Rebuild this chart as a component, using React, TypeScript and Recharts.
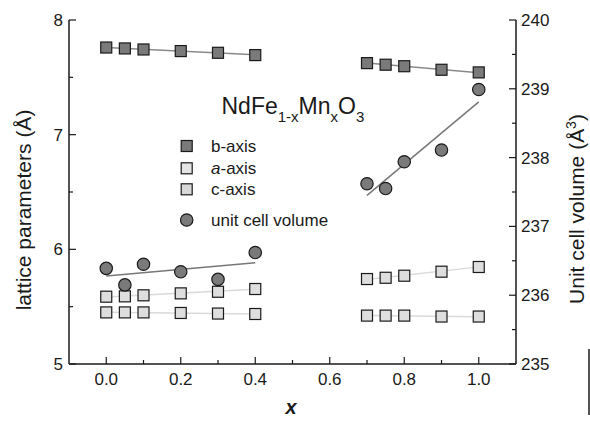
import { ComposedChart, Scatter, XAxis, YAxis } from "recharts";

// compositions x in NdFe(1-x)Mn(x)O3
const xValues = [0, 0.05, 0.1, 0.2, 0.3, 0.4, 0.7, 0.75, 0.8, 0.9, 1.0];
// lattice parameters (Å), left axis
const bAxis = [7.76, 7.752, 7.743, 7.729, 7.714, 7.694, 7.624, 7.61, 7.597, 7.566, 7.543];
const cAxis = [5.587, 5.59, 5.599, 5.616, 5.63, 5.654, 5.741, 5.752, 5.77, 5.805, 5.846];
const aAxis = [5.45, 5.45, 5.45, 5.445, 5.44, 5.436, 5.422, 5.422, 5.422, 5.414, 5.414];
// unit cell volume (Å^3), right axis
const cellVolume = [236.39, 236.15, 236.45, 236.34, 236.23, 236.62, 237.62, 237.55, 237.94, 238.11, 238.99];

// linear fits, end points
const fitLeftX = [0, 0.4];
const fitRightX = [0.7, 1.0];
const bFitLeft = [7.761, 7.696];
const bFitRight = [7.626, 7.541];
const cFitLeft = [5.585, 5.652];
const cFitRight = [5.737, 5.847];
const aFitLeft = [5.451, 5.436];
const aFitRight = [5.423, 5.413];
const volFitLeft = [236.28, 236.47];
const volFitRight = [237.45, 238.81];

// ticks
const xMajor = [0, 0.2, 0.4, 0.6, 0.8, 1.0];
const xMinor = [0.1, 0.3, 0.5, 0.7, 0.9];
const leftMajor = [5, 6, 7, 8];
const leftMinor = [5.5, 6.5, 7.5];
const rightMajor = [235, 236, 237, 238, 239, 240];
const rightMinor = [235.5, 236.5, 237.5, 238.5, 239.5];

const FONT = "Arial, 'Liberation Sans', sans-serif";
const INK = "#1a1a1a";
const DARK = "#7a7a7a";
const LIGHT = "#dedede";

const toRows = (xs: number[], ys: number[]) => xs.map((x, i) => ({ x, y: ys[i] }));
const hasValue = (list: number[], v: number) => list.some((t) => Math.abs(t - v) < 1e-6);

const squareShape = (fill: string) => (props: any) => {
  const { cx, cy } = props;
  return <rect x={cx - 5.5} y={cy - 5.5} width={11} height={11} fill={fill} stroke={INK} strokeWidth={1.2} />;
};
const circleShape = (props: any) => {
  const { cx, cy } = props;
  return <circle cx={cx} cy={cy} r={6.2} fill={DARK} stroke={INK} strokeWidth={1.2} />;
};
const noShape = () => <g />;

const BottomTick = ({ x, y, payload }: any) => {
  const major = hasValue(xMajor, payload.value);
  return (
    <g>
      <line x1={x} x2={x} y1={y} y2={y - (major ? 7 : 4)} stroke={INK} strokeWidth={1.2} />
      {major && (
        <text x={x} y={y + 21} textAnchor="middle" fontSize={17} fontFamily={FONT} fill={INK}>
          {payload.value.toFixed(1)}
        </text>
      )}
    </g>
  );
};
const TopTick = ({ x, y, payload }: any) => {
  const major = hasValue(xMajor, payload.value);
  return <line x1={x} x2={x} y1={y} y2={y + (major ? 7 : 4)} stroke={INK} strokeWidth={1.2} />;
};
const LeftTick = ({ x, y, payload }: any) => {
  const major = hasValue(leftMajor, payload.value);
  return (
    <g>
      <line x1={x} x2={x + (major ? 7 : 4)} y1={y} y2={y} stroke={INK} strokeWidth={1.2} />
      {major && (
        <text x={x - 6} y={y + 6} textAnchor="end" fontSize={17} fontFamily={FONT} fill={INK}>
          {payload.value}
        </text>
      )}
    </g>
  );
};
const RightTick = ({ x, y, payload }: any) => {
  const major = hasValue(rightMajor, payload.value);
  return (
    <g>
      <line x1={x} x2={x - (major ? 7 : 4)} y1={y} y2={y} stroke={INK} strokeWidth={1.2} />
      {major && (
        <text x={x + 5} y={y + 6} textAnchor="start" fontSize={17} fontFamily={FONT} fill={INK}>
          {payload.value}
        </text>
      )}
    </g>
  );
};

const legendRows = [
  { label: "b-axis", fill: DARK, y: 146 },
  { label: "a-axis", fill: "#e4e4e4", y: 168.3, italic: true },
  { label: "c-axis", fill: "#d8d8d8", y: 189.3 },
];

export default function App() {
  const axisLine = { stroke: INK, strokeWidth: 1.5 };
  return (
    <div style={{ position: "absolute", left: 0, top: 0, width: 590, height: 421, fontFamily: FONT }}>
      <ComposedChart width={590} height={421} margin={{ top: 20, right: 14, bottom: 17, left: 19 }}>
        <XAxis
          xAxisId="bottom"
          dataKey="x"
          type="number"
          domain={[-0.1, 1.1]}
          allowDataOverflow
          ticks={[...xMajor, ...xMinor]}
          interval={0}
          height={40}
          tickSize={0}
          tickMargin={0}
          axisLine={axisLine}
          tickLine={false}
          tick={(p: any) => <BottomTick {...p} />}
        />
        <XAxis
          xAxisId="top"
          orientation="top"
          dataKey="x"
          type="number"
          domain={[-0.1, 1.1]}
          allowDataOverflow
          ticks={[...xMajor, ...xMinor]}
          interval={0}
          height={0}
          tickSize={0}
          tickMargin={0}
          axisLine={axisLine}
          tickLine={false}
          tick={(p: any) => <TopTick {...p} />}
        />
        <YAxis
          yAxisId="left"
          dataKey="y"
          type="number"
          domain={[5, 8]}
          allowDataOverflow
          ticks={[...leftMajor, ...leftMinor]}
          interval={0}
          width={50}
          tickSize={0}
          tickMargin={0}
          axisLine={axisLine}
          tickLine={false}
          tick={(p: any) => <LeftTick {...p} />}
        />
        <YAxis
          yAxisId="right"
          orientation="right"
          dataKey="y"
          type="number"
          domain={[235, 240]}
          allowDataOverflow
          ticks={[...rightMajor, ...rightMinor]}
          interval={0}
          width={60}
          tickSize={0}
          tickMargin={0}
          axisLine={axisLine}
          tickLine={false}
          tick={(p: any) => <RightTick {...p} />}
        />

        {/* fit lines */}
        <Scatter xAxisId="bottom" yAxisId="left" data={toRows(fitLeftX, bFitLeft)} line={{ stroke: "#8a8a8a", strokeWidth: 1.5 }} shape={noShape} isAnimationActive={false} />
        <Scatter xAxisId="bottom" yAxisId="left" data={toRows(fitRightX, bFitRight)} line={{ stroke: "#8a8a8a", strokeWidth: 1.5 }} shape={noShape} isAnimationActive={false} />
        <Scatter xAxisId="bottom" yAxisId="left" data={toRows(fitLeftX, cFitLeft)} line={{ stroke: "#dadada", strokeWidth: 1.5 }} shape={noShape} isAnimationActive={false} />
        <Scatter xAxisId="bottom" yAxisId="left" data={toRows(fitRightX, cFitRight)} line={{ stroke: "#dadada", strokeWidth: 1.5 }} shape={noShape} isAnimationActive={false} />
        <Scatter xAxisId="bottom" yAxisId="left" data={toRows(fitLeftX, aFitLeft)} line={{ stroke: "#dadada", strokeWidth: 1.5 }} shape={noShape} isAnimationActive={false} />
        <Scatter xAxisId="bottom" yAxisId="left" data={toRows(fitRightX, aFitRight)} line={{ stroke: "#dadada", strokeWidth: 1.5 }} shape={noShape} isAnimationActive={false} />
        <Scatter xAxisId="bottom" yAxisId="right" data={toRows(fitLeftX, volFitLeft)} line={{ stroke: "#777777", strokeWidth: 1.5 }} shape={noShape} isAnimationActive={false} />
        <Scatter xAxisId="bottom" yAxisId="right" data={toRows(fitRightX, volFitRight)} line={{ stroke: "#777777", strokeWidth: 1.5 }} shape={noShape} isAnimationActive={false} />

        {/* measured points */}
        <Scatter name="b-axis" xAxisId="bottom" yAxisId="left" data={toRows(xValues, bAxis)} shape={squareShape(DARK)} isAnimationActive={false} />
        <Scatter name="c-axis" xAxisId="bottom" yAxisId="left" data={toRows(xValues, cAxis)} shape={squareShape(LIGHT)} isAnimationActive={false} />
        <Scatter name="a-axis" xAxisId="bottom" yAxisId="left" data={toRows(xValues, aAxis)} shape={squareShape(LIGHT)} isAnimationActive={false} />
        <Scatter name="unit cell volume" xAxisId="bottom" yAxisId="right" data={toRows(xValues, cellVolume)} shape={circleShape} isAnimationActive={false} />
      </ComposedChart>

      <svg width={590} height={421} style={{ position: "absolute", left: 0, top: 0, pointerEvents: "none" }}>
        {/* formula */}
        <text x={221.5} y={113.5} fontSize={23} fontFamily={FONT} fill={INK}>
          NdFe
          <tspan fontSize={15} dy={8}>1-x</tspan>
          <tspan dy={-8}>Mn</tspan>
          <tspan fontSize={15} dy={8}>x</tspan>
          <tspan dy={-8}>O</tspan>
          <tspan fontSize={15} dy={8}>3</tspan>
        </text>

        {/* legend */}
        {legendRows.map((r) => (
          <g key={r.label}>
            <rect x={181.2} y={r.y - 5.5} width={11} height={11} fill={r.fill} stroke={INK} strokeWidth={1.2} />
            <text x={211} y={r.y + 6} fontSize={17} fontFamily={FONT} fill={INK}>
              {r.italic ? (
                <>
                  <tspan fontStyle="italic">a</tspan>-axis
                </>
              ) : (
                r.label
              )}
            </text>
          </g>
        ))}
        <circle cx={186.7} cy={220} r={6.2} fill={DARK} stroke={INK} strokeWidth={1.2} />
        <text x={211} y={226} fontSize={17} fontFamily={FONT} fill={INK}>
          unit cell volume
        </text>

        {/* axis titles */}
        <text transform="translate(31,210) rotate(-90)" textAnchor="middle" fontSize={21} fontFamily={FONT} fill={INK}>
          lattice parameters (Å)
        </text>
        <text transform="translate(584,209) rotate(-90)" textAnchor="middle" fontSize={21} fontFamily={FONT} fill={INK}>
          Unit cell volume (Å<tspan fontSize={14} dy={-8}>3</tspan>
          <tspan dy={8}>)</tspan>
        </text>
        <text x={291} y={414} textAnchor="middle" fontSize={20} fontWeight="bold" fontStyle="italic" fontFamily={FONT} fill={INK}>
          x
        </text>

        <line x1={589} x2={589} y1={349} y2={415} stroke={INK} strokeWidth={1.5} />
      </svg>
    </div>
  );
}
